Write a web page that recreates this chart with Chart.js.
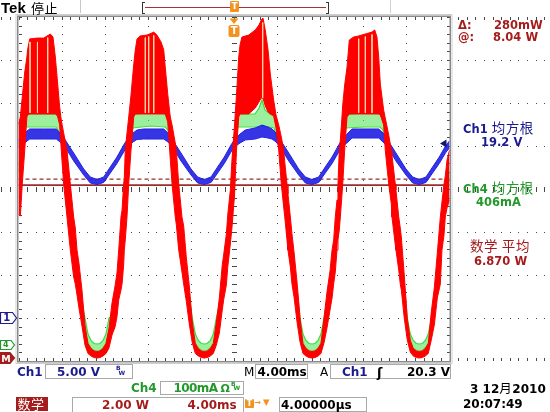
<!DOCTYPE html>
<html><head><meta charset="utf-8">
<script src="https://cdn.jsdelivr.net/npm/chart.js@4.4.0/dist/chart.umd.min.js"></script>
<style>
html,body{margin:0;padding:0;background:#fff;}
#wrap{position:relative;width:550px;height:412px;overflow:hidden;background:#fff;font-family:"DejaVu Sans","Noto Sans CJK SC",sans-serif;}
#c{position:absolute;left:0;top:0;width:550px;height:412px;}
.t{position:absolute;white-space:nowrap;line-height:1;font-weight:bold;}
.cj{font-family:"Noto Sans CJK SC";font-weight:normal;line-height:0;font-size:13.5px;letter-spacing:0.6px;}
.box{position:absolute;border:1px solid #a9a9a9;box-sizing:border-box;}
.blk{position:absolute;}
</style></head><body>
<div id="wrap"><canvas id="c" width="550" height="412"></canvas></div>
<script>
// ---------- data (time in ms, trigger at 0) ----------
// Math (Ch1 x Ch4) power, W : envelope of the displayed trace
const redT = [-20.00,-19.83,-19.65,-19.42,-19.22,-19.16,-18.96,-18.28,-17.66,-17.20,-17.05,-16.80,-16.58,-16.38,-16.18,-16.03,-15.81,-15.50,-15.19,-14.88,-14.73,-14.57,-14.39,-14.11,-13.83,-13.55,-13.27,-12.99,-12.71,-12.44,-12.16,-11.88,-11.60,-11.32,-11.04,-10.86,-10.70,-10.49,-10.39,-10.24,-10.18,-10.09,-9.93,-9.77,-9.56,-9.47,-9.31,-9.16,-9.00,
-8.70,-8.07,-7.61,-7.45,-7.15,-6.77,-6.52,-6.38,-6.15,-5.97,-5.91,-5.75,-5.45,-5.35,-5.13,-4.83,-4.67,-4.43,-4.15,-3.87,-3.59,-3.31,-3.03,-2.76,-2.48,-2.20,-1.92,-1.64,-1.36,-1.09,-0.96,-0.71,-0.58,-0.34,-0.19,0.05,0.23,0.44,0.56,0.74,
1.36,1.98,2.32,2.53,2.69,2.90,3.16,3.37,3.68,3.90,4.15,4.39,4.61,4.71,4.92,5.01,5.23,5.38,5.57,5.85,6.13,6.40,6.68,6.96,7.24,7.52,7.80,8.07,8.35,8.63,8.91,9.10,9.25,9.40,9.56,9.65,9.77,9.87,10.02,10.09,10.27,10.49,10.70,
11.11,11.57,12.19,12.81,13.06,13.27,13.43,13.58,13.89,14.04,14.36,14.60,14.66,14.97,15.03,15.29,15.43,15.53,15.80,16.08,16.36,16.64,16.92,17.20,17.48,17.75,18.03,18.31,18.59,18.87,19.15,19.30,19.49,19.61,19.77,20.00];
const redHi = [10.88,11.21,12.14,13.30,14.00,14.33,14.84,14.88,14.88,15.02,15.07,14.93,14.00,12.84,11.67,11.07,10.47,9.67,8.09,6.56,6.05,5.02,4.42,3.16,1.53,0.67,0.44,0.33,0.30,0.33,0.44,0.67,1.40,2.56,3.35,3.95,5.02,6.56,6.88,8.09,8.37,9.67,10.47,11.21,12.23,12.74,13.63,14.33,14.84,
14.98,15.02,15.12,15.16,15.02,14.70,14.33,13.53,12.28,11.44,11.21,10.84,10.00,9.67,8.09,6.56,6.14,4.70,3.35,1.67,0.67,0.44,0.33,0.30,0.33,0.44,0.67,1.67,2.79,4.33,4.79,5.77,6.65,7.81,9.21,10.84,12.23,14.00,14.56,14.93,
15.02,15.26,15.49,15.72,15.81,15.26,14.33,13.21,12.00,11.30,10.84,10.28,9.67,9.12,8.09,7.63,6.56,5.77,4.93,3.53,1.86,0.67,0.44,0.33,0.30,0.33,0.44,0.67,1.86,3.07,4.05,5.02,5.49,6.56,7.35,8.09,9.67,10.14,11.21,11.77,12.70,13.53,14.79,
14.93,14.98,15.07,15.16,15.26,14.93,14.00,12.74,11.53,11.16,10.37,9.67,9.44,8.09,7.81,6.56,6.05,5.63,3.86,1.86,0.84,0.44,0.33,0.30,0.33,0.44,0.67,2.14,3.26,4.88,6.56,7.26,8.09,8.47,9.21,9.67];
const redLo = [6.70,6.60,8.09,9.67,11.21,11.30,11.35,11.35,11.35,11.35,11.35,11.35,11.35,11.26,10.84,9.67,8.09,6.56,5.02,3.77,3.44,2.93,2.33,1.49,0.60,0.21,0.09,0.02,0.00,0.02,0.09,0.21,0.47,1.07,1.44,1.91,2.70,3.16,3.44,4.33,5.02,5.49,6.56,8.09,9.67,10.14,11.21,11.35,11.35,
11.35,11.35,11.35,11.35,11.35,11.35,11.35,11.35,10.98,9.67,9.21,8.09,6.56,6.19,5.02,4.00,3.44,2.65,1.58,0.70,0.21,0.09,0.02,0.00,0.02,0.09,0.21,0.60,1.16,2.23,2.70,3.40,4.23,5.30,6.05,7.58,9.67,11.21,11.35,11.35,
11.35,11.63,11.91,12.09,12.09,11.72,11.44,11.35,11.26,10.70,9.67,8.09,7.02,6.56,5.49,5.02,4.23,3.44,2.84,1.67,0.74,0.21,0.09,0.02,0.00,0.02,0.09,0.21,0.70,1.40,2.23,2.79,3.44,4.00,5.02,5.49,5.95,6.56,7.58,8.09,9.67,11.21,11.35,
11.35,11.35,11.35,11.35,11.35,11.35,11.35,11.30,10.84,9.67,8.09,7.16,6.56,5.26,5.02,4.09,3.44,3.16,1.86,0.84,0.28,0.09,0.02,0.00,0.02,0.09,0.21,0.84,1.53,2.79,3.44,5.02,5.72,6.56,6.98,7.35];
// pale streaks inside the power humps
const streakT   = [-18.93,-18.24,-17.29,-8.23,-7.92,-7.45,2.66,11.57,12.19,12.81];
const streakTop = [14.70,14.70,14.90,14.90,14.95,15.00,15.60,14.85,14.95,15.05];
const streakBot = [11.40,11.40,11.40,11.40,11.40,11.40,12.10,11.40,11.40,11.40];

// Ch1 voltage, V
const blueT = [-20.00,-19.67,-19.21,-18.96,-17.69,-16.49,-16.15,-15.66,-14.88,-13.95,-13.34,-12.71,-12.09,-11.48,-10.86,-10.24,-9.93,-9.37,-9.00,-8.38,-6.52,-6.13,-5.70,-4.92,-3.99,-3.38,-2.76,-2.13,-1.52,-0.90,-0.28,0.03,0.56,1.05,1.95,2.60,3.16,3.53,3.90,4.30,5.08,6.00,6.62,7.24,7.86,8.47,9.10,9.72,10.02,10.58,10.95,12.16,13.43,13.83,14.26,15.03,15.96,16.58,17.20,17.82,18.43,19.05,19.68,20.00];
const blueHi = [20.70,21.16,21.74,21.98,21.98,21.98,21.51,20.70,19.19,17.33,16.40,16.10,16.40,17.56,18.72,20.12,20.70,21.51,21.86,21.98,21.98,21.51,20.70,19.19,17.33,16.40,16.10,16.40,17.56,18.72,20.12,20.70,21.40,21.86,22.09,22.44,22.21,21.98,21.51,20.70,19.19,17.33,16.40,16.10,16.40,17.56,18.72,20.12,20.70,21.51,21.98,21.98,21.98,21.51,20.70,19.19,17.33,16.40,16.10,16.40,17.56,18.72,20.12,20.58];
const blueLo = [19.83,20.12,20.58,20.81,20.81,20.81,20.47,19.88,18.26,16.63,15.70,15.52,15.76,16.86,17.97,19.30,19.88,20.47,20.76,20.81,20.81,20.47,19.88,18.26,16.63,15.70,15.52,15.76,16.86,17.97,19.30,19.88,20.35,20.70,20.81,21.05,20.93,20.81,20.47,19.88,18.26,16.63,15.70,15.52,15.76,16.86,17.97,19.30,19.88,20.47,20.93,20.93,20.93,20.47,19.88,18.26,16.63,15.70,15.52,15.76,16.86,17.97,19.30,19.77];

// Ch4 current, mA (plateau under each hump, hidden under Math on the flanks, U at each valley)
const greenT = [-20.00,-19.83,-19.65,-19.42,-19.21,-17.69,-16.52,-16.34,-16.01,-15.76,-15.50,-15.18,-14.88,-14.41,-14.11,-13.83,-13.55,-13.27,-12.99,-12.71,-12.44,-12.16,-11.88,-11.60,-11.16,-10.70,-10.44,-10.21,-10.00,-9.82,-9.61,-9.42,
-7.74,-6.40,-6.13,-5.89,-5.66,-5.44,-5.13,-4.83,-4.36,-4.13,-3.87,-3.59,-3.31,-3.03,-2.76,-2.48,-2.20,-1.92,-1.64,-1.19,-0.84,-0.45,-0.34,-0.19,0.05,0.14,0.23,0.37,
1.30,1.95,2.32,2.60,2.88,3.34,3.71,3.99,4.38,4.66,4.97,5.28,5.70,5.94,6.13,6.40,6.68,6.96,7.24,7.52,7.80,8.07,8.35,8.68,9.02,9.33,9.63,9.87,10.02,10.16,10.30,
12.16,13.55,13.83,14.06,14.32,14.66,14.98,15.35,15.75,15.88,16.08,16.36,16.64,16.92,17.20,17.48,17.75,18.03,18.31,18.47,18.84,19.07,19.38,19.68,20.00];
const greenHi = [416.3,437.2,483.7,532.6,537.2,537.2,537.2,532.6,500.0,460.5,381.4,304.7,227.9,148.8,100.0,62.8,25.6,10.5,3.5,2.3,3.5,10.5,25.6,62.8,72.1,148.8,227.9,304.7,381.4,460.5,511.6,534.9,
541.9,537.2,527.9,493.0,460.5,381.4,304.7,227.9,148.8,109.3,62.8,25.6,10.5,3.5,2.3,3.5,10.5,25.6,62.8,111.6,188.4,265.1,304.7,358.1,437.2,476.7,518.6,537.2,
537.2,537.2,551.2,569.8,546.5,537.2,532.6,504.7,460.5,381.4,304.7,227.9,148.8,109.3,62.8,25.6,10.5,3.5,2.3,3.5,10.5,25.6,62.8,104.7,148.8,227.9,304.7,381.4,460.5,504.7,534.9,
539.5,537.2,527.9,493.0,460.5,381.4,304.7,227.9,148.8,123.3,62.8,25.6,10.5,3.5,2.3,3.5,10.5,25.6,62.8,93.0,148.8,227.9,304.7,360.5,402.3];
const greenLo = [402.3,423.3,469.8,509.3,507.0,507.0,507.0,500.0,476.7,446.5,367.4,290.7,214.0,134.9,81.4,30.2,4.7,-7.0,-12.8,-14.0,-12.8,-7.0,4.7,30.2,58.1,134.9,214.0,290.7,367.4,446.5,493.0,504.7,
509.3,507.0,500.0,472.1,446.5,367.4,290.7,214.0,134.9,90.7,30.2,4.7,-7.0,-12.8,-14.0,-12.8,-7.0,4.7,30.2,97.7,174.4,251.2,290.7,344.2,423.3,458.1,500.0,507.0,
507.0,507.0,507.0,509.3,507.0,507.0,504.7,481.4,446.5,367.4,290.7,214.0,134.9,90.7,30.2,4.7,-7.0,-12.8,-14.0,-12.8,-7.0,4.7,30.2,90.7,134.9,214.0,290.7,367.4,446.5,486.1,504.7,
507.0,507.0,500.0,472.1,446.5,367.4,290.7,214.0,134.9,104.7,30.2,4.7,-7.0,-12.8,-14.0,-12.8,-7.0,4.7,30.2,79.1,134.9,214.0,290.7,346.5,388.4];

// cursors (W): @ 8.04 W, Δ 280 mW
const cursorLevels = [8.32, 8.04];
const timeRange = [-20, 20];       // 4.00 ms/div x 10 div
const trigTime = 0, trigLevel = 20.3;
// per-channel screen ranges (8 divisions) from volts/div and ground positions
const rangeV = [-5, 35], rangeI = [-37.2, 762.8], rangeP = [-0.14, 15.86];

const NAVY = '#1b1b8e', GREEN = '#22992a', DR = '#a51c1c', ORANGE = '#f2921f';

const pts = (T, Y) => T.map((t, i) => ({x: t, y: Y[i]}));
const streakData = [];
streakT.forEach((t, i) => { streakData.push({x: t, y: streakTop[i]}, {x: t, y: streakBot[i]}, {x: t, y: null}); });
const lineAt = v => [{x: timeRange[0], y: v}, {x: timeRange[1], y: v}];

const graticule = {
  id: 'graticule',
  beforeDatasetsDraw(chart) {
    const {ctx, chartArea: a, scales} = chart;
    const sx = scales.x, sy = scales.yd;
    const X = v => Math.round(sx.getPixelForValue(v));
    const Y = v => Math.round(sy.getPixelForValue(v));
    ctx.save();
    ctx.fillStyle = '#484848';
    for (let d = -4; d <= 4; d++) { const px = X(d * 4); for (let m = -20; m <= 20; m++) ctx.fillRect(px, Y(m * 0.2), 1, 1); }
    for (let d = -3; d <= 3; d++) { const py = Y(d); for (let m = -50; m <= 50; m++) ctx.fillRect(X(m * 0.8), py, 1, 1); }
    for (let m = -50; m <= 50; m++) ctx.fillRect(X(m * 0.8), Y(0) - 2, 1, 5);
    for (let m = -20; m <= 20; m++) ctx.fillRect(X(0) - 2, Y(m * 0.2), 5, 1);
    for (let m = -50; m <= 50; m++) { const px = X(m * 0.8); ctx.fillRect(px, Math.round(a.top), 1, 3); ctx.fillRect(px, Math.round(a.bottom) - 3, 1, 3); }
    for (let m = -20; m <= 20; m++) { const py = Y(m * 0.2); ctx.fillRect(Math.round(a.left), py, 3, 1); ctx.fillRect(Math.round(a.right) - 3, py, 3, 1); }
    ctx.strokeStyle = '#8a8a8a'; ctx.lineWidth = 1.5;
    ctx.strokeRect(a.left - 0.75, a.top - 0.75, a.width + 1.5, a.height + 1.5);
    ctx.strokeStyle = '#cfcfcf'; ctx.lineWidth = 1;
    ctx.strokeRect(a.left - 2.5, a.top - 2.5, a.width + 5, a.height + 5);
    ctx.restore();
  }
};

const markers = {
  id: 'markers',
  afterDatasetsDraw(chart) {
    const {ctx, chartArea: a, scales: s} = chart;
    ctx.save();
    const tag = (y, w, tip, h, stroke, fill) => {
      ctx.beginPath(); ctx.moveTo(0.5, y - h); ctx.lineTo(w, y - h); ctx.lineTo(tip, y); ctx.lineTo(w, y + h); ctx.lineTo(0.5, y + h); ctx.closePath();
      ctx.fillStyle = fill; ctx.fill(); ctx.strokeStyle = stroke; ctx.lineWidth = 1.2; ctx.stroke();
    };
    tag(s.yV.getPixelForValue(0), 12.5, 16.5, 5.5, NAVY, '#fff');
    tag(s.yI.getPixelForValue(0), 11, 14.5, 4.5, GREEN, '#fff');
    tag(s.yP.getPixelForValue(0), 10, 14.5, 5.5, DR, DR);
    const ty = s.yV.getPixelForValue(trigLevel);
    ctx.beginPath(); ctx.moveTo(a.right - 9.5, ty); ctx.lineTo(a.right - 3, ty - 4); ctx.lineTo(a.right - 3, ty + 4); ctx.closePath();
    ctx.fillStyle = '#16166e'; ctx.fill();
    const tx = s.x.getPixelForValue(trigTime);
    ctx.fillStyle = ORANGE;
    ctx.beginPath(); ctx.moveTo(tx - 4.5, a.top + 1.5); ctx.lineTo(tx + 4.5, a.top + 1.5); ctx.lineTo(tx, a.top + 7); ctx.closePath(); ctx.fill();
    ctx.beginPath(); ctx.roundRect(tx - 5.5, a.top + 8, 11, 12, 2); ctx.fill();
    ctx.restore();
  }
};

const chart = new Chart(document.getElementById('c'), {
  type: 'line',
  data: { datasets: [
    {data: pts(redT, redHi), yAxisID: 'yP', borderColor: '#ff0000', backgroundColor: '#ff0000', borderWidth: 1, fill: '+1', order: 1},
    {data: pts(redT, redLo), yAxisID: 'yP', borderColor: '#ff0000', borderWidth: 1, fill: false, order: 1},
    {data: pts(blueT, blueHi), yAxisID: 'yV', borderColor: '#2222e2', backgroundColor: 'rgba(38,38,228,0.93)', borderWidth: 1, fill: '+1', order: 2},
    {data: pts(blueT, blueLo), yAxisID: 'yV', borderColor: '#2222e2', borderWidth: 1, fill: false, order: 2},
    {data: pts(greenT, greenHi), yAxisID: 'yI', borderColor: '#3cdc3c', backgroundColor: 'rgba(90,228,90,0.6)', borderWidth: 1.2, fill: '+1', order: 3},
    {data: pts(greenT, greenLo), yAxisID: 'yI', borderColor: '#3cdc3c', borderWidth: 1.2, fill: false, order: 3},
    {data: lineAt(cursorLevels[0]), yAxisID: 'yP', borderColor: '#93302f', borderWidth: 1.2, borderDash: [4, 3], fill: false, order: 4},
    {data: lineAt(cursorLevels[1]), yAxisID: 'yP', borderColor: '#9a2c2c', borderWidth: 1.6, fill: false, order: 4},
    {data: streakData, yAxisID: 'yP', borderColor: 'rgba(255,214,170,0.95)', borderWidth: 1, fill: false, spanGaps: false, order: 0}
  ]},
  options: {
    responsive: false, animation: false, devicePixelRatio: 1,
    layout: {padding: {left: 18.5, top: 17, right: 100.5, bottom: 51}},
    plugins: {legend: {display: false}, tooltip: {enabled: false}},
    elements: {point: {radius: 0}, line: {tension: 0}},
    scales: {
      x: {type: 'linear', min: timeRange[0], max: timeRange[1], display: false},
      yd: {type: 'linear', min: -4, max: 4, display: false},
      yV: {type: 'linear', min: rangeV[0], max: rangeV[1], display: false},
      yI: {type: 'linear', min: rangeI[0], max: rangeI[1], display: false},
      yP: {type: 'linear', min: rangeP[0], max: rangeP[1], display: false}
    }
  },
  plugins: [graticule, markers]
});

// ---------- texts ----------
const wrap = document.getElementById('wrap');
function txt(x, base, html, o = {}) {
  const d = document.createElement('div');
  d.className = 't';
  const size = o.size || 12;
  d.style.left = x + 'px';
  d.style.top = (base - (o.ratio || 0.846) * size) + 'px';
  d.style.fontSize = size + 'px';
  d.style.color = o.color || '#000';
  if (o.weight) d.style.fontWeight = o.weight;
  if (o.family) d.style.fontFamily = o.family;
  if (o.ls) d.style.letterSpacing = o.ls;
  d.innerHTML = html;
  wrap.appendChild(d);
  return d;
}
function blk(x, y, w, h, css) { const d = document.createElement('div'); d.className = 'blk'; d.style.cssText += `left:${x}px;top:${y}px;width:${w}px;height:${h}px;` + css; wrap.appendChild(d); return d; }
function box(x, y, w, h) { const d = document.createElement('div'); d.className = 'box'; d.style.cssText += `left:${x}px;top:${y}px;width:${w}px;height:${h}px;`; wrap.appendChild(d); }
function bw(x, y, color) { txt(x, y + 4.5, 'B', {size: 6, color}); txt(x + 2.5, y + 9, 'W', {size: 6, color}); }

// top bar
txt(1, 12.5, 'Tek', {size: 15, family: '"Liberation Sans"', ratio: 0.8465});
txt(31, 13, '<span class="cj" style="font-size:13px">停止</span>', {size: 12, weight: 'normal'});
blk(79.5, 0, 1, 13, 'background:#c8c8c8;');
blk(389.5, 0, 1, 13, 'background:#d0d0d0;');
blk(141.5, 1.5, 3, 12, 'border:1.5px solid #333;border-right:none;box-sizing:border-box;');
blk(325.5, 1.5, 3, 12, 'border:1.5px solid #333;border-left:none;box-sizing:border-box;');
blk(144.5, 6.5, 181, 1, 'background:#a83232;');
blk(230, 1, 9, 11, `background:${ORANGE};border-radius:1px;`);
txt(231.5, 10, 'T', {size: 9, color: '#fff'});

// right readouts
txt(458, 30, 'Δ:', {size: 11.5, color: DR});
txt(494, 30, '280mW', {size: 11.5, color: DR});
txt(458, 41.5, '@:', {size: 11.5, color: DR});
txt(493, 41.5, '8.04 W', {size: 11.5, color: DR});
txt(463, 134, 'Ch1 <span class="cj">均方根</span>', {size: 11.5, color: NAVY});
txt(481, 146.5, '19.2 V', {size: 11.5, color: NAVY});
txt(463, 193.5, 'Ch4 <span class="cj">均方根</span>', {size: 11.5, color: GREEN});
txt(476, 206.5, '406mA', {size: 11.5, color: GREEN});
txt(470, 252, '<span class="cj">数学 平均</span>', {size: 11.5, color: DR});
txt(474, 265.5, '6.870 W', {size: 11.5, color: DR});

// bottom rows
txt(17, 376.5, 'Ch1', {color: NAVY});
box(45, 363.5, 88, 15);
txt(57, 376.5, '5.00 V', {color: NAVY});
bw(116, 366, NAVY);
txt(244, 376.5, 'M', {weight: 'normal'});
box(255, 363.5, 52.5, 15);
txt(257.5, 376.5, '4.00ms');
txt(320, 376.5, 'A', {weight: 'normal'});
box(330, 363.5, 121, 15);
txt(342, 376.5, 'Ch1', {color: NAVY});
txt(377, 377, 'ʃ', {size: 13});
txt(407, 376.5, '20.3 V');

txt(131, 392, 'Ch4', {color: GREEN});
box(159.5, 380.5, 84, 14.5);
txt(173.5, 392, '100mA', {color: GREEN, ls: '-0.6px'});
txt(220.5, 392, 'Ω', {color: GREEN, size: 11});
bw(231, 381.5, GREEN);

blk(15.5, 397, 32, 14, `background:${DR};`);
txt(17.5, 409.5, '<span class="cj" style="font-size:13px;color:#fff">数学</span>', {size: 12, color: '#fff'});
box(71.5, 396.5, 172, 16);
txt(102, 409, '2.00 W', {color: DR});
txt(187.5, 409, '4.00ms', {color: DR});
blk(245, 398.5, 9, 9.5, `background:${ORANGE};border-radius:1px;`);
txt(246.5, 406.5, 'T', {size: 8.5, color: '#fff'});
txt(254.5, 406, '→', {size: 8, color: ORANGE});
txt(263, 405.5, '▼', {size: 8.5, color: ORANGE});
box(278.5, 396.5, 88.5, 15.5);
txt(281, 409, '4.00000µs');
txt(470, 393.5, '3 12<span class="cj" style="font-size:12.5px">月</span>2010');
txt(463, 408.5, '20:07:49');

// channel markers at their ground levels and trigger marker letter
const sc = chart.scales;
txt(3.3, sc.yV.getPixelForValue(0) + 3.8, '1', {size: 10, color: NAVY});
txt(3, sc.yI.getPixelForValue(0) + 3, '4', {size: 8, color: GREEN});
txt(1.2, sc.yP.getPixelForValue(0) + 3.6, 'M', {size: 9.5, color: '#fff'});
txt(sc.x.getPixelForValue(trigTime) - 3.2, chart.chartArea.top + 17.6, 'T', {size: 10, color: '#fff'});
</script>
</body></html>
